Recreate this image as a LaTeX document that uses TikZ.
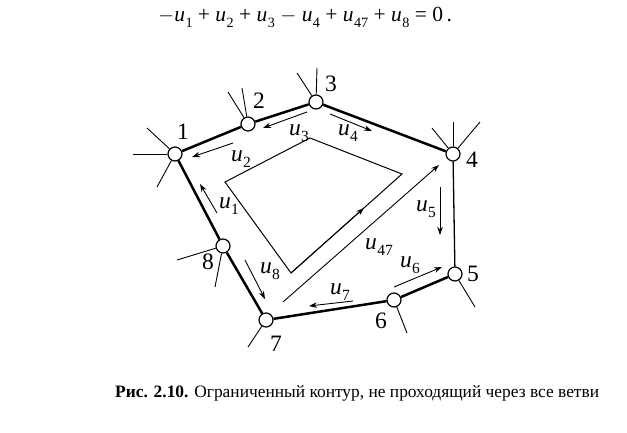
\documentclass[tikz,border=0pt]{standalone}
\usepackage{fontspec}
\setmainfont{Liberation Serif}
\usetikzlibrary{arrows.meta}
\newcommand\uvar[1]{\textit{u}\kern0.02em\raisebox{-0.28em}{\scalebox{0.66}{#1}}}

\tikzset{
  vertex/.style={circle, draw, line width=1.2pt, fill=white, minimum size=14pt, inner sep=0pt},
  branch/.style={line width=2.5pt},
  thinbranch/.style={line width=1.3pt},
  stub/.style={line width=0.9pt},
  dirarrow/.style={line width=0.9pt, -{Stealth[length=8pt, width=5.5pt]}},
  lab/.style={font=\fontsize{23.5}{23.5}\selectfont, inner sep=0pt},
}

\begin{document}
\begin{tikzpicture}[x=1pt, y=-1pt]
  %%%%% START %%%%%
  \useasboundingbox (0,0) rectangle (627,432);

  \node[font=\fontsize{21.5}{21.5}\selectfont, inner sep=0pt, anchor=west] (eq) at (158,17)
    {$-$\uvar{1} + \uvar{2} + \uvar{3} $-$ \uvar{4} + \uvar{47} + \uvar{8} = 0\,.};

  % nodes of the graph
  \node[vertex] (n1) at (175,154) {};
  \node[vertex] (n2) at (248,124) {};
  \node[vertex] (n3) at (316,102) {};
  \node[vertex] (n4) at (453,154) {};
  \node[vertex] (n5) at (455,274) {};
  \node[vertex] (n6) at (394,300) {};
  \node[vertex] (n7) at (266,320) {};
  \node[vertex] (n8) at (223,246) {};

  % branches of the contour
  \draw[branch] (n1) -- (n2);
  \draw[branch] (n2) -- (n3);
  \draw[branch] (n3) -- (n4);
  \draw[thinbranch] (n4) -- (n5);
  \draw[branch] (n5) -- (n6);
  \draw[branch] (n6) -- (n7);
  \draw[branch] (n7) -- (n8);
  \draw[branch] (n8) -- (n1);

  % other branches (stubs)
  \draw[stub] (n1) -- +(-42,0);
  \draw[stub] (n1) -- +(-28,-26);
  \draw[stub] (n1) -- +(-18,33);
  \draw[stub] (n2) -- +(-20,-32);
  \draw[stub] (n2) -- +(-6,-36);
  \draw[stub] (n3) -- +(-19,-29);
  \draw[stub] (n3) -- +(1,-34);
  \draw[stub] (n4) -- +(-21,-26);
  \draw[stub] (n4) -- +(0,-32);
  \draw[stub] (n4) -- +(27,-32);
  \draw[stub] (n5) -- +(20,33);
  \draw[stub] (n6) -- +(13,33);
  \draw[stub] (n7) -- +(-18,27);
  \draw[stub] (n8) -- +(-46,14);
  \draw[stub] (n8) -- +(-8,41);

  % node numbers
  \node[lab] (l1) at (183,132) {1};
  \node[lab] (l2) at (259,101) {2};
  \node[lab] (l3) at (331,84) {3};
  \node[lab] (l4) at (472,160) {4};
  \node[lab] (l5) at (473,274) {5};
  \node[lab] (l6) at (381,321) {6};
  \node[lab] (l7) at (276,344) {7};
  \node[lab] (l8) at (208,262) {8};

  % branch voltages
  \draw[dirarrow] (233,143) -- (192,157);
  \draw[dirarrow] (307,112) -- (263,128);
  \draw[dirarrow] (330,114) -- (372,131);
  \draw[dirarrow] (440,187) -- (440,235);
  \draw[dirarrow] (394,287) -- (442,267);
  \draw[dirarrow] (353,301) -- (309,306);
  \draw[dirarrow] (245,260) -- (265,299);
  \draw[dirarrow] (217,213) -- (200,184);
  \draw[dirarrow] (283,302) -- (439,165);

  \node[lab] (u1) at (229,206) {\uvar{1}};
  \node[lab] (u2) at (241,159) {\uvar{2}};
  \node[lab] (u3) at (299,133) {\uvar{3}};
  \node[lab] (u4) at (348,133) {\uvar{4}};
  \node[lab] (u5) at (426,209) {\uvar{5}};
  \node[lab] (u6) at (410,265) {\uvar{6}};
  \node[lab] (u7) at (340,292) {\uvar{7}};
  \node[lab] (u8) at (270,271) {\uvar{8}};
  \node[lab] (u47) at (379,247) {\uvar{47}};

  % inner contour
  \draw[line width=1pt] (225,182) -- (310,138) -- (402,174) -- (291,273) -- cycle;
  \draw[dirarrow] (291,273) -- (364,208);

  \node[font=\fontsize{17.4}{17.4}\selectfont, anchor=west, inner sep=0pt] (cap) at (115,393)
    {\textbf{Рис. 2.10.} Ограниченный контур, не проходящий через все ветви};
  %%%%% END %%%%%
\end{tikzpicture}
\end{document}
